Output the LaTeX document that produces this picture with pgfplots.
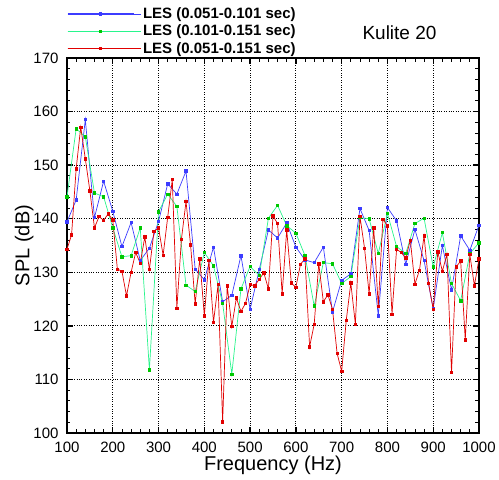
\documentclass[border=0pt]{standalone}
\usepackage{fontspec}
\setmainfont{Liberation Sans}
\usepackage{pgfplots}
\pgfplotsset{compat=1.18}
\usepackage{pgfplotstable}

\definecolor{lesblue}{RGB}{60,60,255}
\definecolor{lesgreenline}{RGB}{40,245,140}
\definecolor{lesgreenmark}{RGB}{0,200,0}
\definecolor{lesred}{RGB}{225,0,0}

% LES window 0.051-0.101 s (20 Hz resolution)
\pgfplotstableread{
f spl
100 139.4
120 143.5
140 158.5
160 140.2
180 147.0
200 141.4
220 134.8
240 139.3
260 132.2
280 134.5
300 139.5
320 146.5
340 144.6
360 148.9
380 130.6
400 128.6
420 134.7
440 124.5
460 125.7
480 133.1
500 123.1
520 130.5
540 137.9
560 136.4
580 139.2
600 134.7
620 132.3
640 131.8
660 134.7
680 122.6
700 128.5
720 129.7
740 141.9
760 137.8
780 121.9
800 142.1
820 139.6
840 131.5
860 138.0
880 132.2
900 123.2
920 135.0
940 126.7
960 136.8
980 134.1
1000 138.8
}\lesA

% LES window 0.101-0.151 s (20 Hz resolution)
\pgfplotstableread{
f spl
100 144.1
120 156.8
140 155.3
160 144.8
180 144.1
200 138.3
220 132.9
240 133.1
260 138.3
280 111.8
300 141.3
320 144.6
340 142.3
360 127.6
380 126.4
400 133.7
420 131.2
440 124.2
460 111.0
480 126.9
500 131.1
520 129.4
540 140.1
560 142.5
580 138.7
600 137.3
620 133.1
640 123.7
660 131.8
680 131.6
700 127.9
720 129.2
740 140.2
760 140.0
780 133.5
800 141.0
820 134.8
840 133.5
860 139.1
880 140.1
900 131.0
920 137.4
940 127.9
960 124.7
980 133.5
1000 135.5
}\lesB

% LES window 0.051-0.151 s (10 Hz resolution)
\pgfplotstableread{
f spl
100 134.3
110 137.0
120 149.3
130 157.1
140 151.2
150 145.2
160 138.3
170 140.4
180 139.7
190 140.9
200 139.8
210 130.6
220 130.2
230 125.6
240 130.0
250 133.7
260 131.7
270 136.6
280 130.5
290 137.6
300 138.3
310 133.2
320 140.3
330 147.3
340 123.3
350 136.2
360 143.2
370 135.1
380 124.1
390 132.5
400 121.9
410 132.2
420 120.7
430 127.7
440 102.1
450 127.5
460 119.9
470 125.2
480 122.7
490 124.2
500 127.7
510 127.5
520 128.7
530 129.9
540 126.9
550 140.5
560 139.1
570 126.0
580 137.9
590 128.0
600 127.2
610 131.5
620 132.5
630 116.1
640 120.3
650 131.6
660 124.5
670 125.8
680 123.1
690 114.9
700 111.5
710 121.0
720 128.0
730 120.3
740 140.4
750 134.5
760 126.0
770 138.3
780 123.6
790 139.9
800 138.7
810 122.2
820 134.3
830 133.7
840 132.7
850 136.0
860 127.8
870 130.4
880 136.8
890 127.9
900 123.1
910 133.8
920 130.2
930 133.4
940 111.3
950 131.0
960 132.1
970 117.4
980 133.3
990 127.5
1000 132.5
}\lesC

\begin{document}
\begin{tikzpicture}[x=1pt,y=1pt]
\useasboundingbox (-67,-47) rectangle (432,433);
\begin{axis}[
  at={(0,0)}, anchor=south west,
  scale only axis, width=412pt, height=375pt,
  xmin=100, xmax=1000, ymin=100, ymax=170,
  xtick={100,200,...,1000}, ytick={100,110,...,170},
  minor x tick num=4, minor y tick num=4,
  tick align=inside,
  major tick length=6pt, minor tick length=3.5pt,
  every major tick/.style={line width=1.4pt, black},
  every minor tick/.style={line width=0.8pt, black},
  axis line style={line width=1.6pt},
  grid=major,
  major grid style={dotted, line width=0.8pt, black},
  tick label style={font=\fontsize{15}{17}\selectfont},
  /pgf/number format/assume math mode=true,
  /pgf/number format/1000 sep={},
  xticklabel style={yshift=-5pt},
  yticklabel style={xshift=-5pt},
  xlabel={Frequency (Hz)}, ylabel={SPL (dB)},
  label style={font=\fontsize{20}{22}\selectfont},
  xlabel style={yshift=3pt},
  ylabel style={yshift=-7pt},
  legend style={at={(rel axis cs:0,1)}, anchor=south west,
    xshift=0pt, yshift=1pt,
    draw=none, fill=none,
    font=\fontsize{15}{17}\selectfont\bfseries,
    row sep=1pt, inner sep=0pt,
    cells={anchor=west}},
  legend image code/.code={%
    \path (0pt,0pt) -- (73pt,0pt);
    \draw[#1, line width=1pt, mark repeat=2, mark phase=2]
      plot coordinates {(0pt,0pt) (33pt,0pt) (66pt,0pt)};},
  legend cell align=left,
]
\addplot[lesblue, line width=0.7pt, mark=square*, mark size=1.2pt,
  mark options={fill=lesblue, draw=lesblue}] table[x=f, y=spl] {\lesA};
\addlegendentry{LES (0.051-0.101 sec)}
\addplot[lesgreenline, line width=0.7pt, mark=square*, mark size=1.2pt,
  mark options={fill=lesgreenmark, draw=lesgreenmark}] table[x=f, y=spl] {\lesB};
\addlegendentry{LES (0.101-0.151 sec)}
\addplot[lesred, line width=0.7pt, mark=square*, mark size=1.2pt,
  mark options={fill=lesred, draw=lesred}] table[x=f, y=spl] {\lesC};
\addlegendentry{LES (0.051-0.151 sec)}
\end{axis}
\node[anchor=west, font=\fontsize{19}{21}\selectfont] at (292,400) {Kulite 20};
\end{tikzpicture}
\end{document}
